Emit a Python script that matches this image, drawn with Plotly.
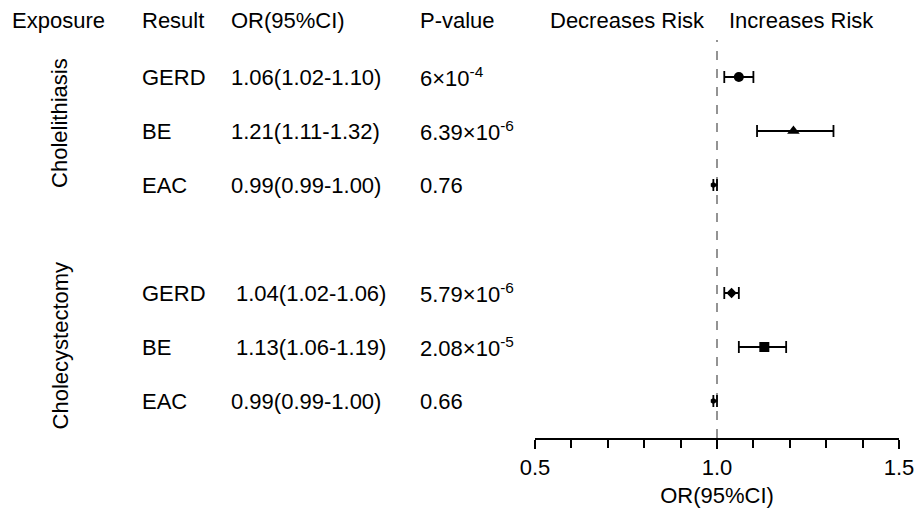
import plotly.graph_objects as go

# ---- data ----
exposures = ["Cholelithiasis", "Cholecystectomy"]
results = ["GERD", "BE", "EAC", "GERD", "BE", "EAC"]
or_vals = [1.06, 1.21, 0.99, 1.04, 1.13, 0.99]
ci_low = [1.02, 1.11, 0.99, 1.02, 1.06, 0.99]
ci_high = [1.10, 1.32, 1.00, 1.06, 1.19, 1.00]
or_text = ["1.06(1.02-1.10)", "1.21(1.11-1.32)", "0.99(0.99-1.00)",
           "1.04(1.02-1.06)", "1.13(1.06-1.19)", "0.99(0.99-1.00)"]
p_text = ["6×10<sup>-4</sup>", "6.39×10<sup>-6</sup>", "0.76",
          "5.79×10<sup>-6</sup>", "2.08×10<sup>-5</sup>", "0.66"]
rows = [0, 1, 2, 4, 5, 6]
symbols = ["circle", "triangle-up", "hexagon", "diamond", "square", "hexagon"]
sizes = [10, 11, 6, 8, 10, 6]
headers = ["Exposure", "Result", "OR(95%CI)", "P-value", "Decreases Risk", "Increases Risk"]
tickvals = [0.5, 1.0, 1.5]
ticktext = ["0.5", "1.0", "1.5"]

FONT = "Arial, Liberation Sans, sans-serif"
FS = 22
W, H = 917, 508
L, R, T, B = 535, 18, 40, 70
pw = W - L - R
ph = H - T - B

def px(xpix):
    return (xpix - L) / pw

def py(ypix):
    return (H - B - ypix) / ph

fig = go.Figure()
for i in range(len(rows)):
    fig.add_trace(go.Scatter(
        x=[or_vals[i]], y=[rows[i]], mode="markers",
        marker=dict(symbol=symbols[i], size=sizes[i], color="black"),
        error_x=dict(type="data", symmetric=False,
                     array=[ci_high[i] - or_vals[i]],
                     arrayminus=[or_vals[i] - ci_low[i]],
                     color="black", thickness=1.8, width=6),
        showlegend=False, hoverinfo="skip"))

fig.add_shape(type="line", xref="x", yref="paper", x0=1.0, x1=1.0, y0=0, y1=1,
              line=dict(color="#888888", width=1.8, dash="dash"), layer="below")

ann = []
# headers
hx = [10, 140, 229, 418, 548, 727]
for t, x in zip(headers, hx):
    ann.append(dict(text=t, x=px(x), y=py(20), xref="paper", yref="paper",
                    xanchor="left", yanchor="middle", showarrow=False,
                    font=dict(family=FONT, size=FS, color="black")))
or_x = [229, 229, 229, 234, 234, 229]
for i, r in enumerate(rows):
    ann.append(dict(text=results[i], x=px(140), y=r, xref="paper", yref="y",
                    xanchor="left", yanchor="middle", showarrow=False,
                    font=dict(family=FONT, size=FS, color="black")))
    ann.append(dict(text=or_text[i], x=px(or_x[i]), y=r, xref="paper", yref="y",
                    xanchor="left", yanchor="middle", showarrow=False,
                    font=dict(family=FONT, size=FS, color="black")))
    ann.append(dict(text=p_text[i], x=px(418), y=r, xref="paper", yref="y",
                    xanchor="left", yanchor="middle", showarrow=False,
                    font=dict(family=FONT, size=FS, color="black")))
for name, yc in zip(exposures, [0.85, 4.97]):
    ann.append(dict(text=name, x=px(60), y=yc, xref="paper", yref="y",
                    xanchor="center", yanchor="middle", textangle=-90,
                    showarrow=False, font=dict(family=FONT, size=FS, color="black")))

fig.update_layout(
    width=W, height=H, margin=dict(l=L, r=R, t=T, b=B, autoexpand=False),
    plot_bgcolor="white", paper_bgcolor="white",
    annotations=ann,
    xaxis=dict(range=[0.5, 1.5], tickvals=tickvals, ticktext=ticktext,
               showgrid=False, zeroline=False, showline=True,
               linecolor="black", linewidth=1.8, ticks="outside",
               ticklen=9, tickwidth=1.8, tickcolor="black",
               minor=dict(dtick=0.1, ticks="outside", ticklen=8, tickwidth=1.8,
                          tickcolor="black", showgrid=False),
               tickfont=dict(family=FONT, size=FS, color="black"),
               title=dict(text="OR(95%CI)", standoff=12,
                          font=dict(family=FONT, size=FS, color="black"))),
    yaxis=dict(range=[(438 - 77) / 54, (40 - 77) / 54], visible=False,
               showgrid=False, zeroline=False),
)
fig.write_html("out.html", config={"displayModeBar": False},
               post_script="document.body.style.margin='0px';document.body.style.padding='0px';")
